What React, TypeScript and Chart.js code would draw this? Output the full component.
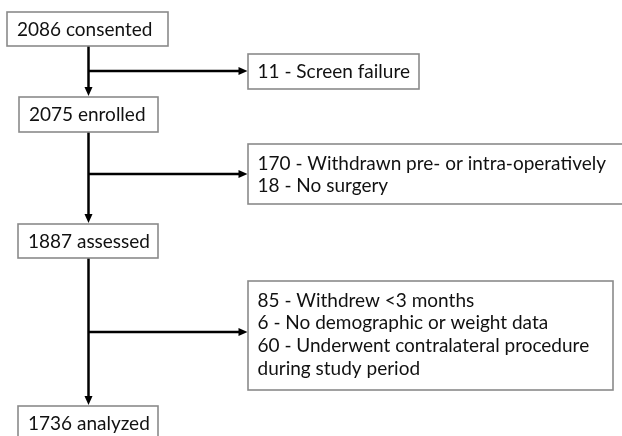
import { useEffect, useRef } from "react";
import { Chart, registerables } from "chart.js";

Chart.register(...registerables);

// ---- data (text of the flow diagram) ----
const stageLabels = ["2086 consented", "2075 enrolled", "1887 assessed", "1736 analyzed"];
const exclusionA = ["11 - Screen failure"];
const exclusionB = ["170 - Withdrawn pre- or intra-operatively", "18 - No surgery"];
const exclusionC = [
  "85 - Withdrew <3 months",
  "6 - No demographic or weight data",
  "60 - Underwent contralateral procedure",
  "during study period",
];
const exclusionLists = [exclusionA, exclusionB, exclusionC];

// ---- layout (in scale units, separate from data) ----
const W = 622;
const H = 436;
const stageBoxes = [
  { x0: 7, x1: 168, y0: 12, y1: 46 },
  { x0: 19, x1: 158, y0: 97, y1: 132 },
  { x0: 18, x1: 158, y0: 224, y1: 258 },
  { x0: 18, x1: 158, y0: 406, y1: 442 },
];
const exclBoxes = [
  { x0: 248, x1: 419, y0: 54, y1: 89 },
  { x0: 248, x1: 640, y0: 144, y1: 204 },
  { x0: 248, x1: 613, y0: 281, y1: 390 },
];
const branchY = [71, 174, 332];
const trunkX = 88.5;

const FONT = "19px Lato, 'DejaVu Sans', sans-serif";

const flowPlugin = {
  id: "flow",
  afterDraw(chart: any) {
    const ctx: CanvasRenderingContext2D = chart.ctx;
    const xs = chart.scales.x;
    const ys = chart.scales.y;
    const px = (v: number) => xs.getPixelForValue(v);
    const py = (v: number) => ys.getPixelForValue(v);
    ctx.save();
    // connectors
    ctx.strokeStyle = "#000000";
    ctx.fillStyle = "#000000";
    ctx.lineWidth = 2.5;
    const arrowDown = (x: number, y: number) => {
      ctx.beginPath();
      ctx.moveTo(x, y);
      ctx.lineTo(x - 4, y - 9);
      ctx.lineTo(x + 4, y - 9);
      ctx.closePath();
      ctx.fill();
    };
    const arrowRight = (x: number, y: number) => {
      ctx.beginPath();
      ctx.moveTo(x, y);
      ctx.lineTo(x - 9, y - 4);
      ctx.lineTo(x - 9, y + 4);
      ctx.closePath();
      ctx.fill();
    };
    for (let i = 0; i < stageBoxes.length - 1; i++) {
      const a = stageBoxes[i];
      const b = stageBoxes[i + 1];
      ctx.beginPath();
      ctx.moveTo(px(trunkX), py(a.y1));
      ctx.lineTo(px(trunkX), py(b.y0) - 6);
      ctx.stroke();
      arrowDown(px(trunkX), py(b.y0) - 1);
      const e = exclBoxes[i];
      ctx.beginPath();
      ctx.moveTo(px(trunkX), py(branchY[i]));
      ctx.lineTo(px(e.x0) - 6, py(branchY[i]));
      ctx.stroke();
      arrowRight(px(e.x0) - 0.5, py(branchY[i]));
    }
    // boxes
    ctx.strokeStyle = "#8a8a8a";
    ctx.lineWidth = 1.6;
    const drawBox = (b: any) => {
      ctx.fillStyle = "#ffffff";
      ctx.fillRect(px(b.x0), py(b.y0), px(b.x1) - px(b.x0), py(b.y1) - py(b.y0));
      ctx.strokeRect(px(b.x0), py(b.y0), px(b.x1) - px(b.x0), py(b.y1) - py(b.y0));
    };
    ctx.font = FONT;
    ctx.textBaseline = "alphabetic";
    ctx.textAlign = "left";
    stageBoxes.forEach((b, i) => {
      drawBox(b);
      ctx.fillStyle = "#111111";
      ctx.fillText(stageLabels[i], px(b.x0) + 10, py(b.y0) + 24);
    });
    exclBoxes.forEach((b, i) => {
      drawBox(b);
      ctx.fillStyle = "#111111";
      const lines = exclusionLists[i];
      const first = lines.length > 1 ? 25.5 : 24;
      lines.forEach((t, j) => {
        ctx.fillText(t, px(b.x0) + 9.5, py(b.y0) + first + j * 22.8);
      });
    });
    ctx.restore();
  },
};

export default function App() {
  const ref = useRef<HTMLCanvasElement | null>(null);
  useEffect(() => {
    if (!ref.current) return;
    const chart = new Chart(ref.current, {
      type: "scatter",
      data: {
        datasets: [
          {
            data: stageBoxes.map((b, i) => ({ x: (b.x0 + b.x1) / 2, y: (b.y0 + b.y1) / 2, label: stageLabels[i] })),
            pointRadius: 0,
          },
        ],
      },
      options: {
        animation: false,
        responsive: false,
        events: [],
        layout: { padding: 0 },
        plugins: { legend: { display: false }, tooltip: { enabled: false } },
        scales: {
          x: { type: "linear", min: 0, max: W, display: false },
          y: { type: "linear", min: 0, max: H, reverse: true, display: false },
        },
      },
      plugins: [flowPlugin],
    });
    return () => chart.destroy();
  }, []);
  return (
    <div style={{ position: "fixed", left: 0, top: 0, width: W, height: H, background: "#fff" }}>
      <canvas ref={ref} width={W} height={H} style={{ width: W, height: H }} />
    </div>
  );
}
